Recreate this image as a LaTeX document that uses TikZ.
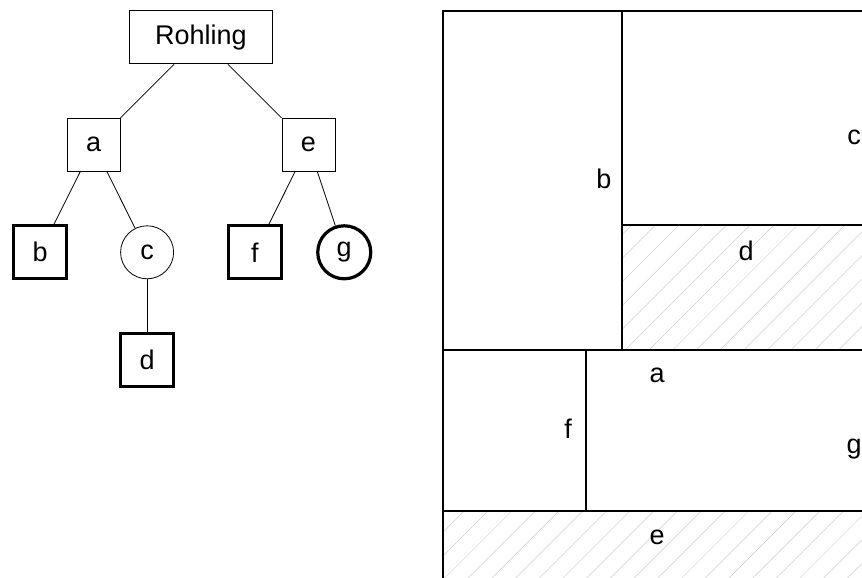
\documentclass[tikz,border=0pt]{standalone}
\usepackage{fontspec}
\setmainfont{Liberation Sans}
\usepackage{tikz}
\usetikzlibrary{positioning}

\tikzset{
  txt/.style={font=\fontsize{27}{32}\selectfont},
  rootbox/.style={txt,draw,line width=0.8pt,minimum width=143pt,minimum height=53pt},
  innerbox/.style={txt,draw,line width=0.8pt,minimum size=53pt},
  leafbox/.style={txt,draw,line width=3.2pt,minimum size=53pt},
  opencirc/.style={txt,circle,draw,line width=0.8pt,minimum size=53pt},
  leafcirc/.style={txt,circle,draw,line width=3.2pt,minimum size=53pt},
  cut/.style={line width=1.2pt},
  hatch/.style={line width=0.5pt,gray!40},
  lbl/.style={txt,inner sep=0pt}
}

\begin{document}
\begin{tikzpicture}[
  x=1pt,y=-1pt,
  level distance=107.5pt,
  level 1/.style={sibling distance=214.8pt},
  level 2/.style={sibling distance=107pt},
  edge from parent/.style={draw,line width=0.8pt}
]
\useasboundingbox (0,0) rectangle (862,578);

% tree
\node[rootbox] (rohling) at (201,37.3) {Rohling}
  child{ node[innerbox] (a) {a}
    child{ node[leafbox] (b) {b} }
    child{ node[opencirc] (c) {c}
      child{ node[leafbox] (d) {d} }
    }
  }
  child{ node[innerbox] (e) {e}
    child[sibling distance=89.3pt,xshift=-8.8pt]{ node[leafbox] (f) {f} }
    child[sibling distance=89.3pt,xshift=-8.8pt]{ node[leafcirc] (g) {g} }
  };

% plate with cut regions
\begin{scope}
  \clip (430,0) rectangle (862,578);
  \begin{scope}
    \clip (622,225) rectangle (900,350) (443,511) rectangle (900,600);
    \foreach \k in {0,...,28}
      \draw[hatch] ({\k*23.7+833-600},600) -- ({\k*23.7+833-200},200);
  \end{scope}
  \draw[cut] (443,11) rectangle (900,600);
  \draw[cut] (622,11) -- (622,350);
  \draw[cut] (622,225) -- (900,225);
  \draw[cut] (443,350) -- (900,350);
  \draw[cut] (586,350) -- (586,511);
  \draw[cut] (443,511) -- (900,511);
\end{scope}

\node[lbl] (lb) at (604,178.5) {b};
\node[lbl] (lc) at (854,137) {c};
\node[lbl] (ld) at (746,251) {d};
\node[lbl] (la) at (657,375) {a};
\node[lbl] (lf) at (568,429) {f};
\node[lbl] (lg) at (854,449.5) {g};
\node[lbl] (le) at (657,537) {e};
\end{tikzpicture}
\end{document}
